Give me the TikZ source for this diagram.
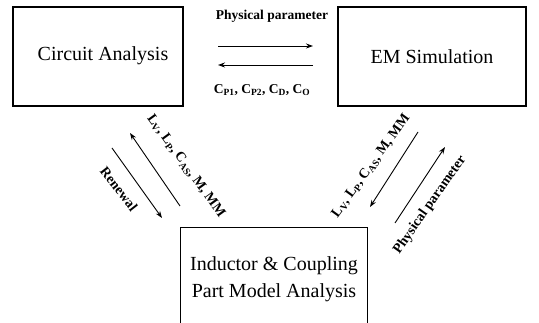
\documentclass[tikz,border=0pt]{standalone}
\usepackage{fontspec}
\setmainfont{Liberation Serif}
\usetikzlibrary{arrows.meta}
\begin{document}
\begin{tikzpicture}[x=1pt,y=-1pt,
  box/.style={draw, line width=1.3pt, inner sep=0pt, font=\fontsize{20}{27}\selectfont, align=center},
  arr/.style={line width=0.9pt, -{Stealth[length=7pt,width=5pt]}},
  lbl/.style={font=\bfseries\fontsize{13.5}{16}\selectfont, inner sep=0pt},
  dlbl/.style={font=\bfseries\fontsize{14}{16}\selectfont, inner sep=0pt}]
\useasboundingbox (0,0) rectangle (539,323);
% boxes
\node[box, minimum width=170pt, minimum height=99pt] (ca) at (98,56.5) {};
\node[font=\fontsize{20}{27}\selectfont, inner sep=0pt] (cat) at (103,56) {Circuit Analysis};
\node[box, minimum width=188pt, minimum height=99pt] (em) at (432,56.5) {EM Simulation};
\node[inner sep=0pt, minimum width=186pt, minimum height=102pt, font=\fontsize{20}{27}\selectfont, align=center] (im) at (274,279) {Inductor \& Coupling\\Part Model Analysis};
\draw[line width=1.3pt] (im.south west) -- (im.north west) -- (im.north east) -- (im.south east);
% top arrows
\coordinate (t1a) at (218,46); \coordinate (t1b) at (313,46);
\coordinate (t2a) at (313,65); \coordinate (t2b) at (218,65);
\draw[arr] (t1a) -- (t1b);
\draw[arr] (t2a) -- (t2b);
\node[lbl] (pp1) at (272,16) {Physical parameter};
\node[lbl] (cp) at (262,90) {C\textsubscript{P1}, C\textsubscript{P2}, C\textsubscript{D}, C\textsubscript{O}};
% left diagonal arrows
\coordinate (la1) at (180,206); \coordinate (la2) at (130,133);
\coordinate (lb1) at (112,148); \coordinate (lb2) at (162,218);
\draw[arr] (la1) -- (la2);
\draw[arr] (lb1) -- (lb2);
\node[dlbl, rotate=-54] (ll) at (186,166) {L\textsubscript{V}, L\textsubscript{P}, C\textsubscript{AS}, M, MM};
\node[dlbl, rotate=-52] (rn) at (119,189) {Renewal};
% right diagonal arrows
\coordinate (rc1) at (418,132); \coordinate (rc2) at (370,207);
\coordinate (rd1) at (395,223); \coordinate (rd2) at (445,147);
\draw[arr] (rc1) -- (rc2);
\draw[arr] (rd1) -- (rd2);
\node[dlbl, rotate=54] (rl) at (371,166) {L\textsubscript{V}, L\textsubscript{P}, C\textsubscript{AS}, M, MM};
\node[dlbl, rotate=55] (pp2) at (430,205) {Physical parameter};
\end{tikzpicture}
\end{document}
